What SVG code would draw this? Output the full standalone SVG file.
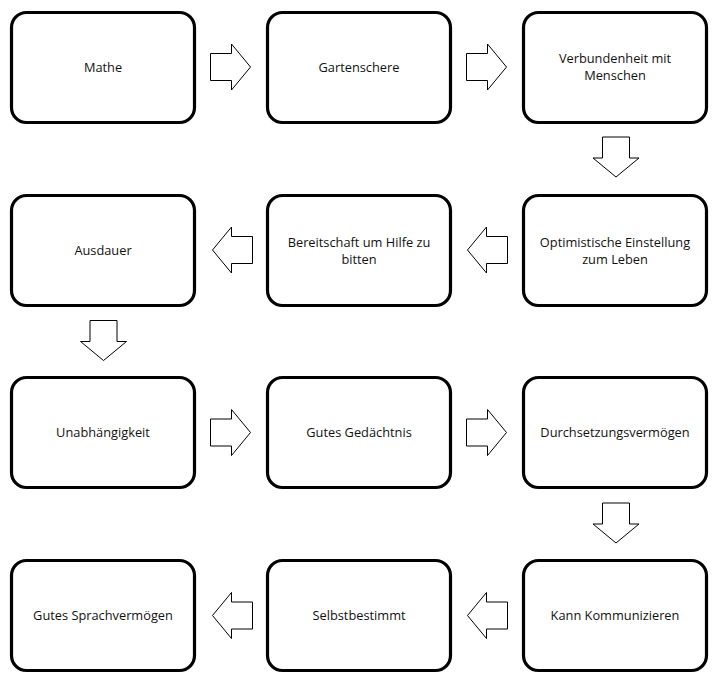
<svg xmlns="http://www.w3.org/2000/svg" width="715" height="675" viewBox="0 0 715 675">
<style>
.box{fill:#fff;stroke:#000;stroke-width:3.2}
.lbl{font-family:"Open Sans","Liberation Sans",Arial,sans-serif;font-size:12.8px;fill:#111;text-anchor:middle;dominant-baseline:central}
.arr{fill:#fff;stroke:#000;stroke-width:1}
</style>
<defs>
<path id="ar" d="M-20,-13.5 H1 V-23 L20,0 L1,23 V13.5 H-20 Z"/>
</defs>
<rect width="715" height="675" fill="#fff"/>
<g id="n1"><rect class="box" x="11.5" y="12.5" width="183" height="110" rx="15"/><text class="lbl" x="103" y="66.5">Mathe</text></g>
<g id="n2"><rect class="box" x="267.5" y="12.5" width="183" height="110" rx="15"/><text class="lbl" x="359" y="66.5">Gartenschere</text></g>
<g id="n3"><rect class="box" x="523.5" y="12.5" width="183" height="110" rx="15"/><text class="lbl" x="615" y="58">Verbundenheit mit</text><text class="lbl" x="615" y="75">Menschen</text></g>
<g id="n4"><rect class="box" x="523.5" y="195.5" width="183" height="110" rx="15"/><text class="lbl" x="615" y="241.5">Optimistische Einstellung</text><text class="lbl" x="615" y="258.5">zum Leben</text></g>
<g id="n5"><rect class="box" x="267.5" y="195.5" width="183" height="110" rx="15"/><text class="lbl" x="359" y="241.5">Bereitschaft um Hilfe zu</text><text class="lbl" x="359" y="258.5">bitten</text></g>
<g id="n6"><rect class="box" x="11.5" y="195.5" width="183" height="110" rx="15"/><text class="lbl" x="103" y="249.5">Ausdauer</text></g>
<g id="n7"><rect class="box" x="11.5" y="377.5" width="183" height="110" rx="15"/><text class="lbl" x="103" y="431.5">Unabhängigkeit</text></g>
<g id="n8"><rect class="box" x="267.5" y="377.5" width="183" height="110" rx="15"/><text class="lbl" x="359" y="431.5">Gutes Gedächtnis</text></g>
<g id="n9"><rect class="box" x="523.5" y="377.5" width="183" height="110" rx="15"/><text class="lbl" x="615" y="431.5">Durchsetzungsvermögen</text></g>
<g id="n10"><rect class="box" x="523.5" y="560.5" width="183" height="110" rx="15"/><text class="lbl" x="615" y="614.5">Kann Kommunizieren</text></g>
<g id="n11"><rect class="box" x="267.5" y="560.5" width="183" height="110" rx="15"/><text class="lbl" x="359" y="614.5">Selbstbestimmt</text></g>
<g id="n12"><rect class="box" x="11.5" y="560.5" width="183" height="110" rx="15"/><text class="lbl" x="103" y="614.5">Gutes Sprachvermögen</text></g>
<g id="connectors">
<use href="#ar" class="arr" transform="translate(230.5,67)"/>
<use href="#ar" class="arr" transform="translate(486.5,67)"/>
<use href="#ar" class="arr" transform="translate(616,157) rotate(90)"/>
<use href="#ar" class="arr" transform="translate(487.5,250) rotate(180)"/>
<use href="#ar" class="arr" transform="translate(232.5,250) rotate(180)"/>
<use href="#ar" class="arr" transform="translate(103.5,340.5) rotate(90)"/>
<use href="#ar" class="arr" transform="translate(230.5,432.5)"/>
<use href="#ar" class="arr" transform="translate(486.5,432.5)"/>
<use href="#ar" class="arr" transform="translate(616,523) rotate(90)"/>
<use href="#ar" class="arr" transform="translate(487.5,615.5) rotate(180)"/>
<use href="#ar" class="arr" transform="translate(232.5,615.5) rotate(180)"/>
</g>
</svg>
